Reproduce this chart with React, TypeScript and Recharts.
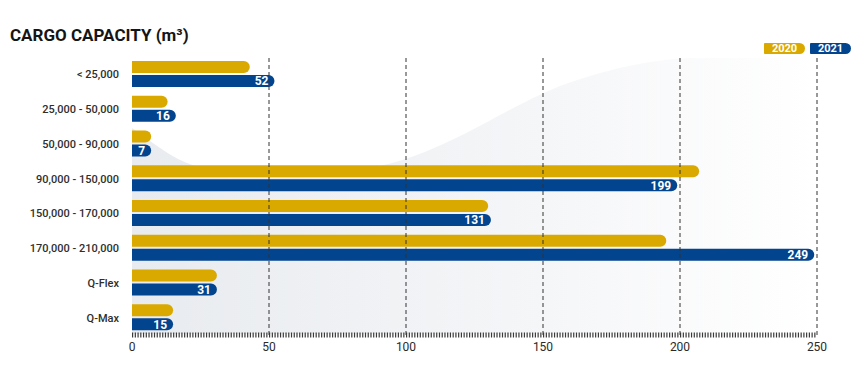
import { BarChart, Bar, XAxis, YAxis, ReferenceLine, LabelList } from "recharts";

const categories = [
  "< 25,000",
  "25,000 - 50,000",
  "50,000 - 90,000",
  "90,000 - 150,000",
  "150,000 - 170,000",
  "170,000 - 210,000",
  "Q-Flex",
  "Q-Max",
];
const values2020 = [43, 13, 7, 207, 130, 195, 31, 15];
const values2021 = [52, 16, 7, 199, 131, 249, 31, 15];
const xTicks = [0, 50, 100, 150, 200, 250];

const AMARELO = "#daa900";
const AZUL = "#03448f";
const narrow = "'Liberation Sans Narrow', 'Roboto', sans-serif";

const dados = categories.map((nome, i) => ({ nome, y2020: values2020[i], y2021: values2021[i] }));

function Pilula({ cor, texto }: { cor: string; texto: string }) {
  return (
    <div
      style={{
        width: 41, height: 11, background: cor, borderRadius: "1px 6px 6px 1px",
        color: "#fff", fontFamily: narrow, fontWeight: 700, fontSize: 11,
        lineHeight: "11px", textAlign: "center",
      }}
    >
      {texto}
    </div>
  );
}

export default function App() {
  return (
    <div style={{ position: "relative", width: 865, height: 370, margin: -8, fontFamily: "Roboto, sans-serif", background: "#fff" }}>
      {/* fundo decorativo */}
      <svg width={865} height={370} style={{ position: "absolute", left: 0, top: 0 }}>
        <defs>
          <linearGradient id="fundo" x1="132" y1="0" x2="817" y2="0" gradientUnits="userSpaceOnUse">
            <stop offset="0" stopColor="#e8ebef" />
            <stop offset="0.6" stopColor="#f5f6f8" />
            <stop offset="1" stopColor="#ffffff" />
          </linearGradient>
        </defs>
        <path
          d="M132,128 C150,140 170,158 195,166 L380,166 C450,150 500,110 560,86 C610,68 650,60 690,58 L817,58 L817,334 L132,334 Z"
          fill="url(#fundo)"
        />
      </svg>

      <div style={{ position: "absolute", left: 10, top: 25, fontSize: 17, fontWeight: 700, color: "#151515" }}>
        CARGO CAPACITY (m³)
      </div>

      <div style={{ position: "absolute", left: 764, top: 43, display: "flex", gap: 5 }}>
        <Pilula cor={AMARELO} texto="2020" />
        <Pilula cor={AZUL} texto="2021" />
      </div>

      <div style={{ position: "absolute", left: 0, top: 0 }}>
        <BarChart
          width={865}
          height={370}
          data={dados}
          layout="vertical"
          margin={{ top: 57, right: 48, bottom: 5, left: 0 }}
          barSize={12}
          barGap={2}
        >
          <XAxis
            type="number"
            domain={[0, 250]}
            ticks={xTicks}
            height={30}
            tickLine={false}
            tickSize={0}
            tickMargin={7}
            axisLine={{ stroke: "#3a3a3a", strokeWidth: 5, strokeDasharray: "1.2 1.54" }}
            tick={{ fill: "#2a2a2a", fontSize: 12, fontFamily: narrow }}
          />
          <YAxis
            type="category"
            dataKey="nome"
            width={132}
            tickLine={false}
            axisLine={false}
            tickSize={0}
            tickMargin={13}
            tick={{ fill: "#2e2e2e", fontSize: 11, fontWeight: 500, fontFamily: "Roboto" }}
          />
          {xTicks.slice(1).map((t) => (
            <ReferenceLine key={t} x={t} stroke="#333" strokeDasharray="4 3" />
          ))}
          <Bar dataKey="y2020" fill={AMARELO} radius={[0, 6, 6, 0]} isAnimationActive={false} />
          <Bar dataKey="y2021" fill={AZUL} radius={[0, 6, 6, 0]} isAnimationActive={false}>
            <LabelList
              dataKey="y2021"
              position="insideRight"
              offset={6}
              fill="#fff"
              style={{ fontFamily: narrow, fontWeight: 700, fontSize: 12 }}
            />
          </Bar>
        </BarChart>
      </div>
    </div>
  );
}
